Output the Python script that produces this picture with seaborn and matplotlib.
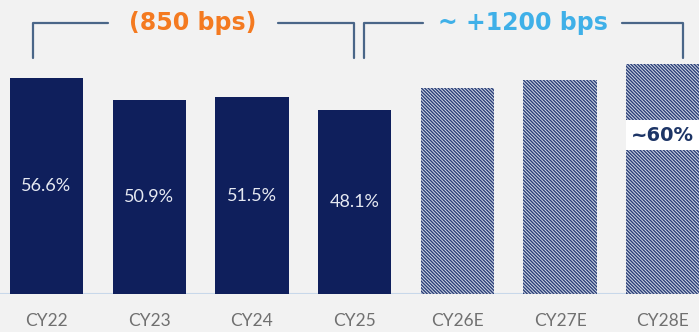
import matplotlib
matplotlib.use("Agg")
import matplotlib.pyplot as plt
import matplotlib.patches as mpatches
import seaborn as sns
import pandas as pd

categories = ["CY22", "CY23", "CY24", "CY25", "CY26E", "CY27E", "CY28E"]
values = [56.6, 50.9, 51.5, 48.1, 54.0, 56.0, 60.2]
is_estimate = [False, False, False, False, True, True, True]
value_labels = ["56.6%", "50.9%", "51.5%", "48.1%", "", "", ""]
estimate_label = "~60%"
left_bracket_text = "(850 bps)"
right_bracket_text = "~ +1200 bps"

NAVY = "#0f1f5c"
BG = "#f2f2f2"
BRACKET = "#4a6688"


def draw_bracket(ax, x0, x1, y_top, y_bot, gap0, gap1, text, color):
    kw = dict(color=BRACKET, lw=1.6, solid_capstyle="round", solid_joinstyle="round")
    ax.plot([x0, x0, gap0], [y_bot, y_top, y_top], **kw)
    ax.plot([gap1, x1, x1], [y_top, y_top, y_bot], **kw)
    ax.text((gap0 + gap1) / 2, y_top, text, ha="center", va="center",
            color=color, fontsize=17, fontweight="bold", family="DejaVu Sans")


def main():
    sns.set_style("white")
    plt.rcParams["font.family"] = ["Lato", "DejaVu Sans"]
    plt.rcParams["hatch.linewidth"] = 1.0
    plt.rcParams["hatch.color"] = "#2a3f78"

    df = pd.DataFrame({"cat": categories, "val": values})

    fig = plt.figure(figsize=(6.99, 3.32), dpi=100)
    fig.patch.set_facecolor(BG)
    ax = fig.add_axes([0, 38 / 332, 1, 294 / 332])
    ax.set_facecolor(BG)

    sns.barplot(data=df, x="cat", y="val", color=NAVY, width=0.715,
                saturation=1, ax=ax)

    for patch, est in zip(ax.patches, is_estimate):
        patch.set_linewidth(0)
        if est:
            patch.set_facecolor("#d6dce8")
            patch.set_hatch("\\" * 10)
            patch.set_edgecolor("#2a3f78")
            patch.set_linewidth(0)

    for patch, lab, v in zip(ax.patches, value_labels, values):
        if lab:
            ax.text(patch.get_x() + patch.get_width() / 2, v / 2, lab,
                    ha="center", va="center", color="#e6e9f2", fontsize=13)

    # white callout on last bar
    last = ax.patches[-1]
    ax.add_patch(mpatches.Rectangle((last.get_x(), 37.7), last.get_width(), 7.8,
                                    facecolor="white", edgecolor="none", zorder=3))
    ax.text(last.get_x() + last.get_width() / 2, 41.6, estimate_label, ha="center",
            va="center", color="#1d3566", fontsize=14, fontweight="bold", zorder=4,
            family="DejaVu Sans")

    draw_bracket(ax, -0.13, 2.99, 70.9, 61.8, 0.60, 2.25, left_bracket_text, "#f47a20")
    draw_bracket(ax, 3.09, 6.20, 70.9, 61.8, 3.67, 5.60, right_bracket_text, "#3fb0e8")

    ax.axhline(0, color="#c8d8ea", lw=1.5, zorder=0)
    ax.set_xlim(-0.453, 6.353)
    ax.set_ylim(0, 77)
    ax.set_xlabel("")
    ax.set_ylabel("")
    ax.set_yticks([])
    ax.tick_params(axis="x", length=0, pad=14, labelsize=12.5, labelcolor="#707070")
    sns.despine(ax=ax, left=True, bottom=True)

    fig.savefig("out.png", dpi=100, facecolor=BG)
    plt.close(fig)


if __name__ == "__main__":
    main()
